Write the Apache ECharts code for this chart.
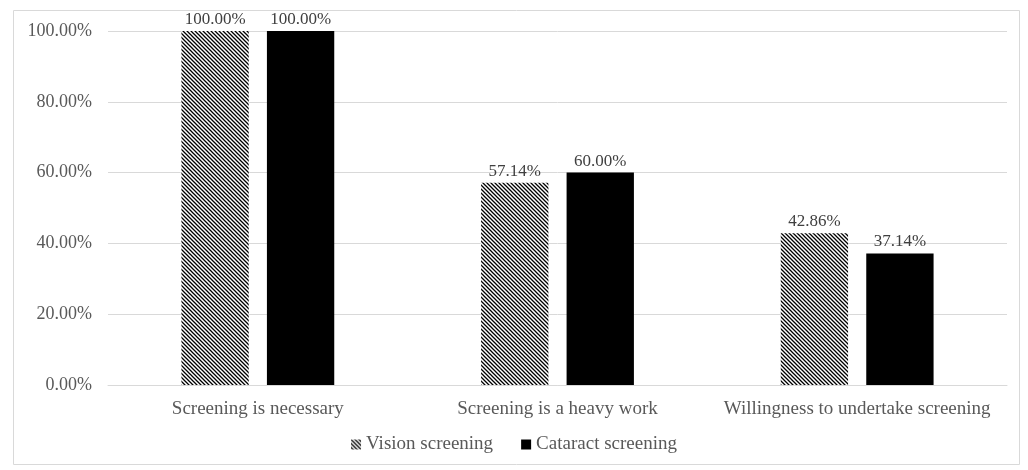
<!DOCTYPE html>
<html>
<head>
<meta charset="utf-8">
<script src="https://cdn.jsdelivr.net/npm/echarts@6/dist/echarts.min.js"></script>
<style>
  html, body { margin: 0; padding: 0; background: #fff; }
  #main { width: 1028px; height: 470px; }
</style>
</head>
<body>
<div id="main"></div>
<script>
var categories = ['Screening is necessary', 'Screening is a heavy work', 'Willingness to undertake screening'];
var visionScreening = [100.00, 57.14, 42.86];
var cataractScreening = [100.00, 60.00, 37.14];

(function () {
    // 斜线填充
    var tile = document.createElement('canvas');
    tile.width = 4;
    tile.height = 4;
    var ctx = tile.getContext('2d');
    ctx.fillStyle = '#ffffff';
    ctx.fillRect(0, 0, 4, 4);
    ctx.strokeStyle = '#000000';
    ctx.lineWidth = 1.3;
    ctx.beginPath();
    ctx.moveTo(-1, -1); ctx.lineTo(5, 5);
    ctx.moveTo(-1, 3); ctx.lineTo(1, 5);
    ctx.moveTo(3, -1); ctx.lineTo(5, 1);
    ctx.stroke();
    var hatch = { image: tile, repeat: 'repeat' };

    var font = 'Liberation Serif';
    var myChart = echarts.init(document.getElementById('main'));
    var option = {
        animation: false,
        textStyle: { fontFamily: font },
        graphic: [{
            type: 'rect',
            shape: { x: 13.5, y: 10.5, width: 1006, height: 454 },
            style: { fill: 'none', stroke: '#d9d9d9', lineWidth: 1 },
            silent: true
        }],
        grid: { left: 108, right: 21, top: 31, bottom: 85 },
        legend: {
            bottom: 11,
            left: 'center',
            itemWidth: 10,
            itemHeight: 10,
            itemGap: 28,
            icon: 'rect',
            textStyle: { fontFamily: font, fontSize: 19, color: '#595959' },
            data: ['Vision screening', 'Cataract screening']
        },
        xAxis: {
            type: 'category',
            data: categories,
            axisLine: { lineStyle: { color: '#d9d9d9' } },
            axisTick: { show: false },
            axisLabel: { interval: 0, fontFamily: font, fontSize: 19, color: '#595959', margin: 15 }
        },
        yAxis: {
            type: 'value',
            min: 0,
            max: 100,
            interval: 20,
            axisLabel: {
                fontFamily: font, fontSize: 18, color: '#595959', margin: 16,
                formatter: function (v) { return v.toFixed(2) + '%'; }
            },
            splitLine: { lineStyle: { color: '#d9d9d9' } }
        },
        series: [
            {
                name: 'Vision screening',
                type: 'bar',
                data: visionScreening,
                barGap: '27%',
                barCategoryGap: '49%',
                itemStyle: { color: hatch },
                label: {
                    show: true, position: 'top', distance: 3,
                    fontFamily: font, fontSize: 17, color: '#404040',
                    formatter: function (p) { return p.value.toFixed(2) + '%'; }
                }
            },
            {
                name: 'Cataract screening',
                type: 'bar',
                data: cataractScreening,
                itemStyle: { color: '#000000' },
                label: {
                    show: true, position: 'top', distance: 3,
                    fontFamily: font, fontSize: 17, color: '#404040',
                    formatter: function (p) { return p.value.toFixed(2) + '%'; }
                }
            }
        ]
    };
    option && myChart.setOption(option);
})();
</script>
</body>
</html>
